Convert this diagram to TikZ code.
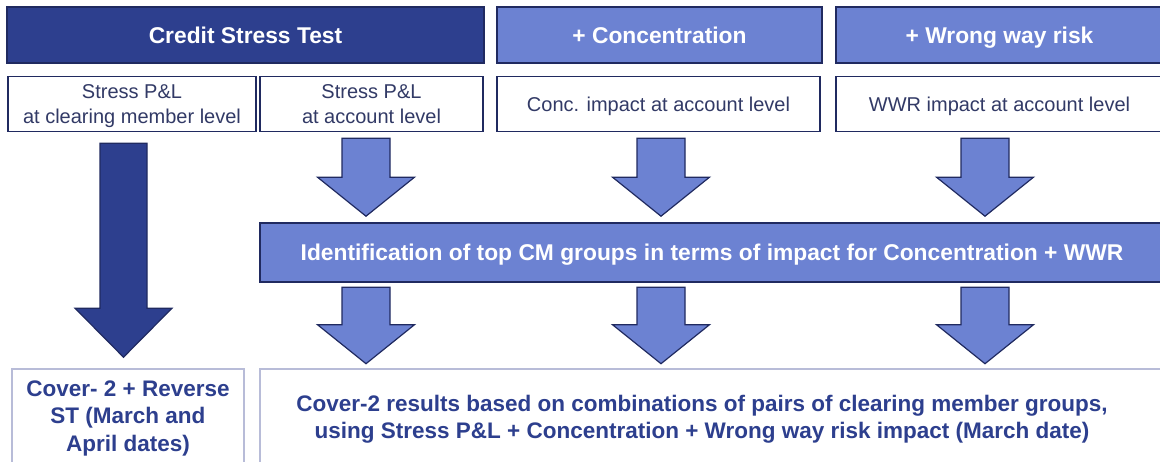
\documentclass[tikz,border=0pt]{standalone}
\usepackage{fontspec}
\setmainfont{Liberation Sans}
\usetikzlibrary{calc}
\definecolor{csnavy}{RGB}{45,63,142}
\definecolor{cslight}{RGB}{108,130,210}
\definecolor{csedge}{RGB}{32,42,96}
\definecolor{cstext}{RGB}{50,58,102}
\definecolor{csframe}{RGB}{184,188,216}
\tikzset{
  headbox/.style={draw=csedge,line width=1.6pt,text=white,inner sep=0pt,minimum height=56,text depth=0pt,
    font=\fontsize{22.8}{26}\selectfont\bfseries},
  subbox/.style={draw=csedge,line width=1.6pt,fill=white,text=cstext,inner sep=0pt,minimum height=55,
    text depth=0pt,align=center,font=\fontsize{20}{25}\selectfont},
  barbox/.style={draw=csedge,line width=1.6pt,fill=cslight,text=white,inner sep=0pt,minimum height=59,
    text depth=0pt,font=\fontsize{22.8}{26}\selectfont\bfseries},
  botbox/.style={draw=csframe,line width=1.6pt,fill=white,inner sep=0pt,minimum height=98},
  bottext/.style={text=csnavy,align=center,inner sep=0pt,font=\fontsize{22.5}{27.5}\selectfont\bfseries},
  litearrow/.style={draw=csedge,line width=1.2pt,fill=cslight,line join=miter},
  darkarrow/.style={draw=csedge,line width=1.2pt,fill=csnavy,line join=miter}
}
% #1 style, #2 x, #3 from, #4 to, #5 gap, #6 half shaft, #7 half head, #8 head length
\newcommand{\fatarrow}[8]{%
  \draw[#1] let \p1=(#3), \p2=(#4) in
    (#2pt-#6pt,\y1-#5pt) -- (#2pt+#6pt,\y1-#5pt) -- (#2pt+#6pt,\y2+#5pt+#8pt)
    -- (#2pt+#7pt,\y2+#5pt+#8pt) -- (#2pt,\y2+#5pt) -- (#2pt-#7pt,\y2+#5pt+#8pt)
    -- (#2pt-#6pt,\y2+#5pt+#8pt) -- cycle;}
\begin{document}
\begin{tikzpicture}[x=1pt,y=-1pt]
\useasboundingbox (0,0) rectangle (1160,461);
\clip (0,0) rectangle (1160,461);
\node[headbox,fill=csnavy,minimum width=477] (cst) at (245.5,35) {Credit Stress Test};
\node[headbox,fill=cslight,minimum width=325] (conc) at (659.5,35) {+ Concentration};
\node[headbox,fill=cslight,minimum width=327] (wwr) at (999.5,35) {+ Wrong way risk};
\node[subbox,minimum width=248] (pnlcm) at (132,104) {Stress P\&L\\at clearing member level};
\node[subbox,minimum width=223] (pnlacc) at (371.5,104) {Stress P\&L\\at account level};
\node[subbox,minimum width=323] (concimp) at (658.5,104) {Conc. impact at account level};
\node[subbox,minimum width=327] (wwrimp) at (999.5,104) {WWR impact at account level};
\node[barbox,minimum width=904] (topcm) at (712,252.5)
  {Identification of top CM groups in terms of impact for Concentration + WWR};
\node[botbox,minimum width=232,bottext] (rev) at (128,418) {Cover- 2 + Reverse\\ST (March and\\April dates)};
\node[botbox,minimum width=904] (res) at (712,418) {};
\node[bottext] (restext) at (702,419) {Cover-2 results based on combinations of pairs of clearing member groups,\\
  using Stress P\&L + Concentration + Wrong way risk impact (March date)};
\fatarrow{darkarrow}{123.5}{pnlcm.south}{rev.north}{11}{23.5}{48.5}{49}
\foreach \ax/\src in {366/pnlacc,661/concimp,985/wwrimp}{
  \fatarrow{litearrow}{\ax}{\src.south}{topcm.north}{6}{24}{48.5}{39}
  \fatarrow{litearrow}{\ax}{topcm.south}{res.north}{4.5}{24}{48.5}{39}
}
\end{tikzpicture}
\end{document}
